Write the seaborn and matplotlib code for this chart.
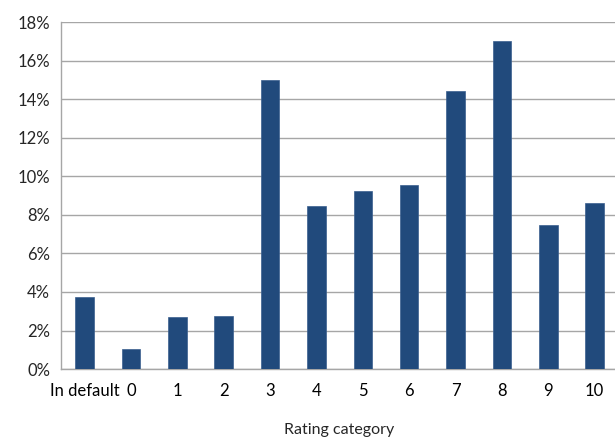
import matplotlib
matplotlib.use("Agg")
import matplotlib.pyplot as plt
import seaborn as sns
import pandas as pd
import numpy as np
from matplotlib.ticker import PercentFormatter, FixedLocator

# data
categories = ["In default", "0", "1", "2", "3", "4", "5", "6", "7", "8", "9", "10"]
shares = [3.75, 1.02, 2.70, 2.75, 14.99, 8.47, 9.25, 9.54, 14.42, 17.03, 7.45, 8.61]

df = pd.DataFrame({"category": categories, "share": shares})

sns.set_style("white")
plt.rcParams["font.family"] = ["Lato", "DejaVu Sans"]

fig = plt.figure(figsize=(6.15, 4.41), dpi=100)
ax = fig.add_axes([0.0997, 0.163, 0.905, 0.787])

grid_c = "#a6a6a6"
sns.barplot(data=df, x="category", y="share", color="#214a7c", width=0.4,
            saturation=1, ax=ax, zorder=3, edgecolor="#3a5f8f", linewidth=0.5)

ax.set_ylim(0, 18)
ax.set_xlim(-0.5, len(categories) - 0.5)
ax.set_yticks(np.arange(0, 19, 2))
ax.yaxis.set_major_formatter(PercentFormatter(decimals=0))
ax.yaxis.grid(True, color=grid_c, linewidth=1, zorder=0)
ax.set_axisbelow(True)

# tick marks between categories, labels at centres
ax.xaxis.set_minor_locator(FixedLocator(np.arange(-0.5, len(categories), 1)))
ax.tick_params(axis="x", which="major", length=0, pad=10, labelsize=12, colors="black")
ax.tick_params(axis="x", which="minor", length=5, width=1, color=grid_c, direction="out")
ax.tick_params(axis="y", length=5, width=1, color=grid_c, direction="out", labelsize=12, pad=3)

for s in ["top", "right"]:
    ax.spines[s].set_visible(False)
for s in ["left", "bottom"]:
    ax.spines[s].set_color(grid_c)
    ax.spines[s].set_linewidth(1)

ax.set_ylabel("")
ax.set_xlabel("")
fig.text(0.551, 1 - 430 / 441, "Rating category", fontsize=11.5, ha="center", va="center")

fig.savefig("out.png", dpi=100)
